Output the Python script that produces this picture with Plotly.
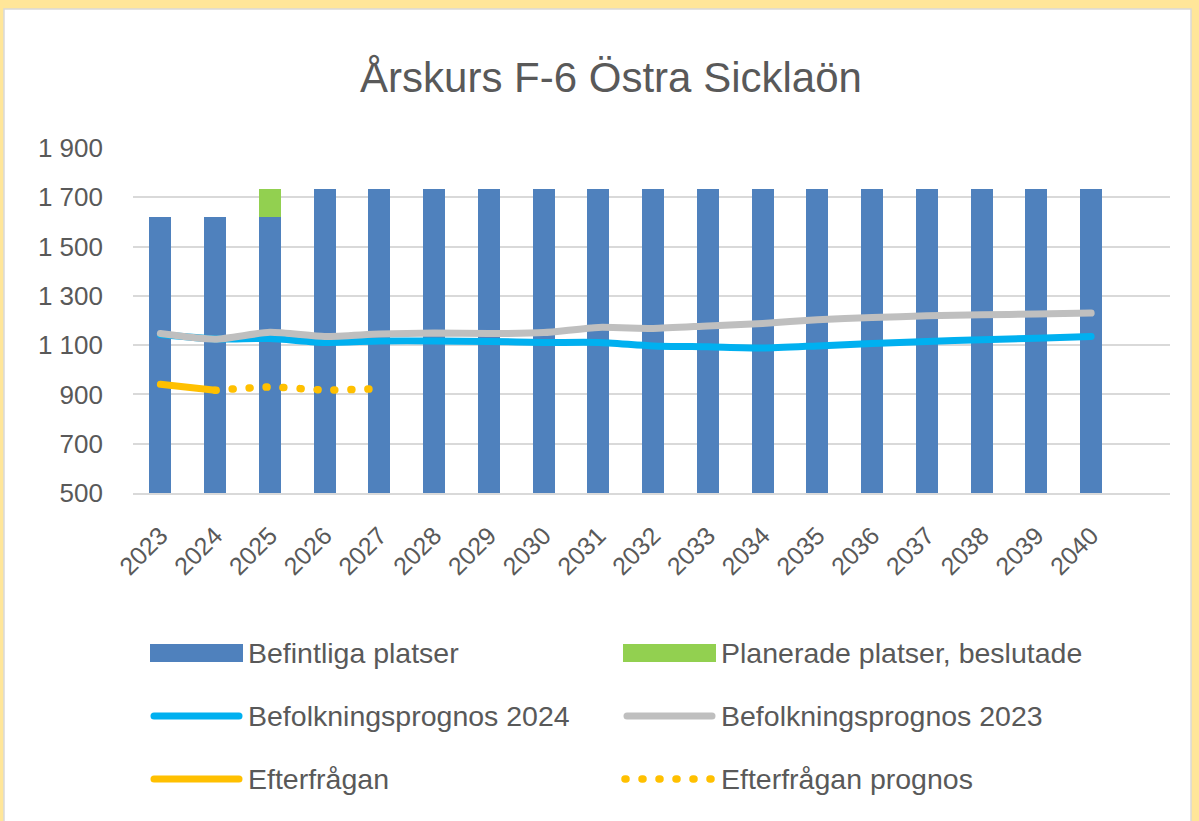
import plotly.graph_objects as go

# --- data ---
years = [str(y) for y in range(2023, 2041)]
befintliga = [1620, 1620, 1620] + [1735] * 15
planerade = [None, None, 115] + [None] * 15
prognos_2024 = [1143, 1125, 1127, 1111, 1117, 1117, 1115, 1111, 1111, 1097,
                1093, 1088, 1097, 1107, 1115, 1122, 1128, 1135]
prognos_2023 = [1147, 1124, 1152, 1135, 1145, 1149, 1147, 1151, 1172, 1168,
                1178, 1188, 1203, 1212, 1219, 1223, 1226, 1230]
efterfragan_years = ["2023", "2024"]
efterfragan = [941, 917]
efterfragan_prog_years = ["2024", "2025", "2026", "2027"]
efterfragan_prog = [917, 930, 918, 923]
y_ticks = [500, 700, 900, 1100, 1300, 1500, 1700, 1900]

W, H = 1199, 821
L, R, T, B = 133, 29, 148, 328
FONT = "Liberation Sans, Arial, sans-serif"
TXT = "#595959"

C_BAR = "#4F81BD"
C_GREEN = "#92D050"
C_BLUE = "#00B0F0"
C_GRAY = "#BFBFBF"
C_YELLOW = "#FFC000"
DOTS = "1px,16px"  # turned into round dots by the linecap tweak below


def px(x):
    return (x - L) / (W - L - R)


def py(y):
    return (H - B - y) / (H - T - B)


fig = go.Figure()
fig.add_trace(go.Bar(x=years, y=befintliga, name="Befintliga platser",
                     marker=dict(color=C_BAR, line=dict(width=0))))
fig.add_trace(go.Bar(x=years, y=planerade, name="Planerade platser, beslutade",
                     marker=dict(color=C_GREEN, line=dict(width=0))))
fig.add_trace(go.Scatter(x=years, y=prognos_2024, name="Befolkningsprognos 2024",
                         mode="lines", line=dict(color=C_BLUE, width=7, shape="spline", smoothing=0.6)))
fig.add_trace(go.Scatter(x=years, y=prognos_2023, name="Befolkningsprognos 2023",
                         mode="lines", line=dict(color=C_GRAY, width=7, shape="spline", smoothing=0.6)))
fig.add_trace(go.Scatter(x=efterfragan_years, y=efterfragan, name="Efterfrågan",
                         mode="lines", line=dict(color=C_YELLOW, width=7)))
fig.add_trace(go.Scatter(x=efterfragan_prog_years, y=efterfragan_prog, name="Efterfrågan prognos",
                         mode="lines", line=dict(color=C_YELLOW, width=7.5, dash=DOTS,
                                                 shape="spline", smoothing=0.6)))

# frame: yellow page, white chart area
shapes = [dict(type="rect", xref="paper", yref="paper", layer="below",
               x0=px(4), x1=px(1191), y0=py(9), y1=py(H + 20),
               fillcolor="white", line=dict(color="#D9D9D9", width=1.5))]
annotations = []

# custom legend (wide Excel-style keys)
legend_rows = [
    (653, ("rect", C_BAR, None, "Befintliga platser"), ("rect", C_GREEN, None, "Planerade platser, beslutade")),
    (716, ("line", C_BLUE, "solid", "Befolkningsprognos 2024"), ("line", C_GRAY, "solid", "Befolkningsprognos 2023")),
    (779, ("line", C_YELLOW, "solid", "Efterfrågan"), ("line", C_YELLOW, DOTS, "Efterfrågan prognos")),
]
for yrow, *items in legend_rows:
    for (kind, color, dash, label), x0 in zip(items, (150, 623)):
        if kind == "rect":
            shapes.append(dict(type="rect", xref="paper", yref="paper",
                               x0=px(x0), x1=px(x0 + 93), y0=py(yrow + 9), y1=py(yrow - 9),
                               fillcolor=color, line=dict(width=0)))
        elif dash == DOTS:
            shapes.append(dict(type="line", xref="paper", yref="paper",
                               x0=px(x0 + 2), x1=px(x0 + 88), y0=py(yrow), y1=py(yrow),
                               line=dict(color=color, width=7.5, dash=dash)))
        else:
            shapes.append(dict(type="line", xref="paper", yref="paper",
                               x0=px(x0 + 4), x1=px(x0 + 89), y0=py(yrow), y1=py(yrow),
                               line=dict(color=color, width=7, dash=dash)))
        annotations.append(dict(text=label, xref="paper", yref="paper",
                                x=px(x0 + 96), y=py(yrow), xanchor="left", yanchor="middle",
                                showarrow=False, font=dict(family=FONT, size=28.5, color=TXT)))

fig.update_layout(
    width=W, height=H,
    margin=dict(l=L, r=R, t=T, b=B, pad=0),
    paper_bgcolor="#FFE699",
    plot_bgcolor="rgba(0,0,0,0)",
    barmode="stack",
    bargap=0.6,
    showlegend=False,
    title=dict(text="Årskurs F-6 Östra Sicklaön", x=611 / W, xanchor="center",
               y=1 - 77 / H, yanchor="middle", yref="container",
               font=dict(family=FONT, size=42, color=TXT)),
    font=dict(family=FONT, color=TXT),
    shapes=shapes,
    annotations=annotations,
)
fig.update_xaxes(type="category", range=[-0.5, 18.44], showgrid=False,
                 showline=True, linecolor="#D9D9D9", linewidth=2, ticks="",
                 tickangle=-45, ticklabelstandoff=16,
                 tickfont=dict(family=FONT, size=25, color=TXT))
fig.update_yaxes(range=[500, 1900], tickvals=y_ticks,
                 ticktext=[f"{v:,}".replace(",", " ") for v in y_ticks],
                 showgrid=True, gridcolor="#D9D9D9", gridwidth=2, zeroline=False,
                 showline=False, ticks="", ticklabelstandoff=29,
                 tickfont=dict(family=FONT, size=26, color=TXT))

# no body margin, and round line caps like Excel (makes the dotted series round dots)
post = """
document.body.style.margin = '0';
document.querySelectorAll('.scatterlayer path.js-line, .shapelayer path').forEach(function (p) {
    p.style.strokeLinecap = 'round';
});
"""
fig.write_html("out.html", config={"displayModeBar": False}, post_script=post)
